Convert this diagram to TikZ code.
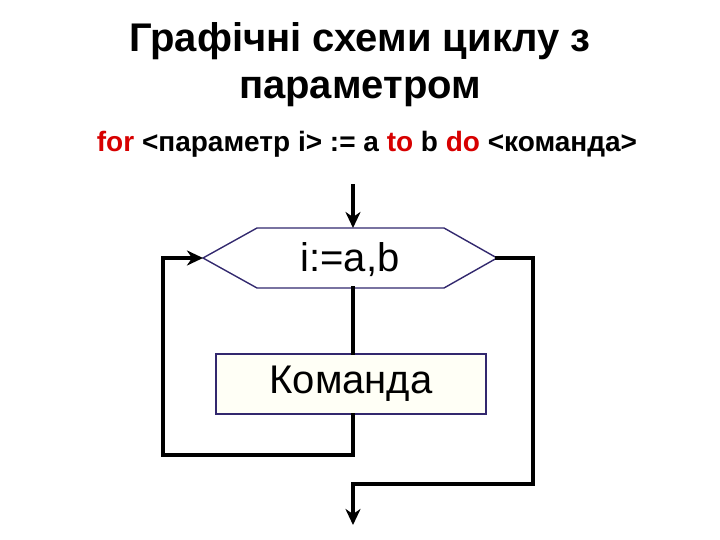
\documentclass[tikz,border=0pt]{standalone}
\usepackage{fontspec}
\setmainfont{Liberation Sans}
\usetikzlibrary{arrows.meta}
\definecolor{kwred}{RGB}{215,0,0}
\definecolor{boxline}{RGB}{50,40,110}
\definecolor{boxfill}{RGB}{255,255,246}
\tikzset{
  flow/.style={line width=3.4pt,line cap=rect},
  arr/.style={-{Stealth[length=16pt,width=15pt,inset=5pt]}},
  blockline/.style={draw=boxline,line width=1.4pt},
  blocktext/.style={font=\fontsize{40}{44}\selectfont,inner sep=0pt}
}
\begin{document}
\begin{tikzpicture}[x=1pt,y=-1pt]
  \useasboundingbox (0,0) rectangle (720,540);
  % title
  \node[font=\fontsize{40}{47}\selectfont\bfseries,align=center] (title) at (360,65)
    {Графічні схеми циклу з\\параметром};
  \node[font=\fontsize{28}{32}\selectfont\bfseries] (syntax) at (367,144)
    {\textcolor{kwred}{for} <параметр i> := a \textcolor{kwred}{to} b \textcolor{kwred}{do} <команда>};
  % hexagon corners
  \coordinate (hw) at (203,258);
  \coordinate (he) at (497,258);
  \coordinate (ht) at (353,228);
  \coordinate (hb) at (353,288);
  % blocks
  \draw[blockline,fill=white] (hw) -- (257,228) -- (444,228) -- (he)
    -- (444,288) -- (257,288) -- cycle;
  \node[blocktext,minimum width=294pt,minimum height=60pt] (loop) at (350,260) {i:=a,b};
  \node[blocktext,blockline,fill=boxfill,minimum width=270pt,minimum height=60pt] (cmd) at (351,384) {Команда};
  % connectors
  \coordinate (in) at (353,186);
  \coordinate (lb) at (163,455);
  \coordinate (rb) at (533,484);
  \coordinate (out) at (353,525);
  \draw[flow,arr] (in) -- (ht);
  \draw[flow] (hb) -- (cmd.north -| hb);
  \draw[flow,arr] (cmd.south -| hb) |- (lb) |- (hw);
  \draw[flow,arr] (he) -| (rb) -| (out);
\end{tikzpicture}
\end{document}
